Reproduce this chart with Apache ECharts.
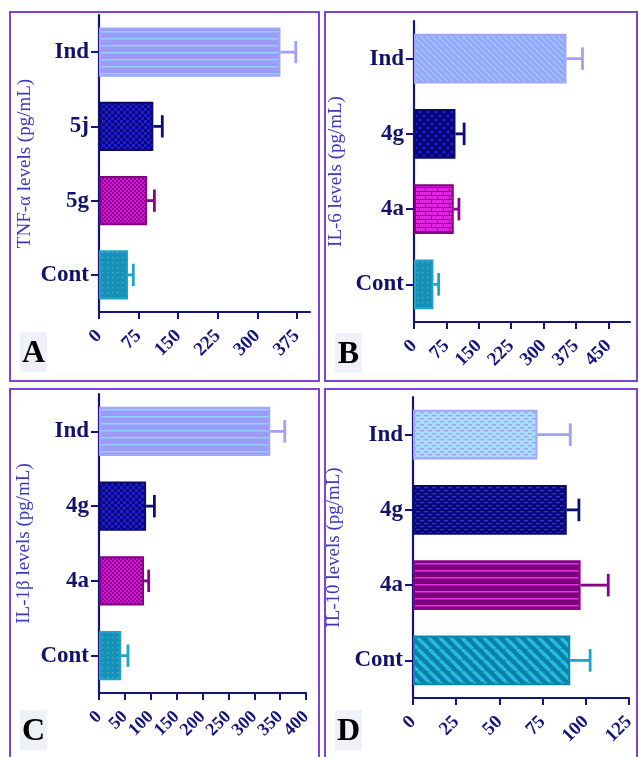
<!DOCTYPE html>
<html><head><meta charset="utf-8">
<script src="https://cdn.jsdelivr.net/npm/echarts@6/dist/echarts.min.js"></script>
<style>html,body{margin:0;padding:0;background:#fff}#c{width:639px;height:757px}</style>
</head><body><div id="c"></div>
<script>
// ---------- DATA ----------
const catsA = ['Cont', '5g', '5j', 'Ind'];
const meanA = [55, 91, 103, 344];
const sdA   = [10, 14, 17, 29];
const ticksA = [0, 75, 150, 225, 300, 375];

const catsB = ['Cont', '4a', '4g', 'Ind'];
const meanB = [45, 92, 96, 353];
const sdB   = [12, 12, 20, 37];
const ticksB = [0, 75, 150, 225, 300, 375, 450];

const catsC = ['Cont', '4a', '4g', 'Ind'];
const meanC = [43, 87, 91, 331];
const sdC   = [13, 9, 16, 28];
const ticksC = [0, 50, 100, 150, 200, 250, 300, 350, 400];

const catsD = ['Cont', '4a', '4g', 'Ind'];
const meanD = [91, 97, 89, 72];
const sdD   = [11.5, 16, 7, 19];
const ticksD = [0, 25, 50, 75, 100, 125];

const namesY = ['TNF-\u03b1 levels (pg/mL)', 'IL-6 levels (pg/mL)', 'IL-1\u03b2 levels (pg/mL)', 'IL-10 levels (pg/mL)'];
const panelLetters = ['A', 'B', 'C', 'D'];

// ---------- PATTERNS / STYLES ----------
function pat(w, h, draw) {
  const c = document.createElement('canvas'); c.width = w; c.height = h;
  const g = c.getContext('2d'); draw(g, w, h);
  return { image: c, repeat: 'repeat' };
}
const hLines = (base, line, sp, lw) => pat(6, sp, (g, w, h) => { g.fillStyle = base; g.fillRect(0, 0, w, h); g.fillStyle = line; g.fillRect(0, Math.floor(h / 2), w, lw); });
const checker = (c1, c2, s) => pat(2 * s, 2 * s, g => { g.fillStyle = c1; g.fillRect(0, 0, 2 * s, 2 * s); g.fillStyle = c2; g.fillRect(0, 0, s, s); g.fillRect(s, s, s, s); });
const dots = (base, dot, sp) => pat(sp, sp, (g, w, h) => { g.fillStyle = base; g.fillRect(0, 0, w, h); g.fillStyle = dot; g.fillRect(2, 2, 1.3, 1.3); });
const diag = (base, stripe, sp, lw) => pat(sp, sp, (g, w, h) => {
  g.fillStyle = base; g.fillRect(0, 0, w, h); g.strokeStyle = stripe; g.lineWidth = lw;
  for (const o of [-w, 0, w]) { g.beginPath(); g.moveTo(o, 0); g.lineTo(o + w, h); g.stroke(); }
});
const cross = (base, line, sp, lw) => pat(sp, sp, (g, w, h) => {
  g.fillStyle = base; g.fillRect(0, 0, w, h); g.strokeStyle = line; g.lineWidth = lw;
  for (const o of [-w, 0, w]) {
    g.beginPath(); g.moveTo(o, 0); g.lineTo(o + w, h); g.stroke();
    g.beginPath(); g.moveTo(o + w, 0); g.lineTo(o, h); g.stroke();
  }
});
const brick = (mortar, br) => pat(12, 8, g => {
  g.fillStyle = mortar; g.fillRect(0, 0, 12, 8); g.fillStyle = br;
  g.fillRect(0, 0, 11, 3); g.fillRect(-6, 4, 11, 3); g.fillRect(6, 4, 11, 3);
});
const dashes = (base, d, lw) => pat(8, 6, g => {
  g.fillStyle = base; g.fillRect(0, 0, 8, 6); g.fillStyle = d;
  g.fillRect(0, 1, 4, lw); g.fillRect(4, 4, 4, lw);
});

const NAVY = '#14147e';
const styleCont = { fill: dots('#1590b6', '#4eb2d2', 5), border: '#22a2c6', err: '#1ea4cc' };
const styleIndH = { fill: hLines('#9c9cf8', '#92d2ff', 7, 1.5), border: '#a4a4fa', err: '#a0a0f6' };
const styleNavyChk = { fill: checker('#06067a', '#1e1ed0', 3), border: '#0a0a68', err: '#0c0c78' };
const styleMagChk = { fill: checker('#d414d4', '#900090', 2), border: '#820082', err: '#8a008a' };

const stylesA = [styleCont, styleMagChk, styleNavyChk, styleIndH];
const stylesB = [
  styleCont,
  { fill: brick('#8e008e', '#e024e0'), border: '#820082', err: '#8a008a' },
  { fill: cross('#1818d0', '#08086c', 8, 2.4), border: '#0a0a68', err: '#0c0c78' },
  { fill: diag('#a0a0f8', '#88ccff', 6, 1.6), border: '#a4a4fa', err: '#a0a0f6' }
];
const stylesC = [styleCont, styleMagChk, styleNavyChk, styleIndH];
const stylesD = [
  { fill: diag('#0a80aa', '#26bcdc', 11, 3.5), border: '#0a86b0', err: '#1ea4cc' },
  { fill: hLines('#7c007c', '#e234e2', 7, 1.5), border: '#8a008a', err: '#8a008a' },
  { fill: dashes('#08087a', '#3434c8', 1.3), border: '#0a0a68', err: '#0c0c78' },
  { fill: dashes('#a8dcff', '#a0a0f0', 1.3), border: '#a4a4fa', err: '#a0a0f6' }
];

const panels = [
  { cats: catsA, mean: meanA, sd: sdA, ticks: ticksA, max: 400, styles: stylesA, grid: { left: 99, top: 15, width: 211, height: 297 }, gap: 64, fs: 19 },
  { cats: catsB, mean: meanB, sd: sdB, ticks: ticksB, max: 500, styles: stylesB, grid: { left: 414, top: 21, width: 216, height: 301 }, gap: 68, fs: 19 },
  { cats: catsC, mean: meanC, sd: sdC, ticks: ticksC, max: 400, styles: stylesC, grid: { left: 99, top: 394, width: 207, height: 299 }, gap: 65, fs: 18 },
  { cats: catsD, mean: meanD, sd: sdD, ticks: ticksD, max: 125, styles: stylesD, grid: { left: 413, top: 397, width: 216, height: 301 }, gap: 69, fs: 19 }
];

const SERIF = "'Liberation Serif','Times New Roman',serif";

function errRender(params, api) {
  const y = api.value(0), m = api.value(1), e = api.value(2);
  const p0 = api.coord([m, y]), p1 = api.coord([e, y]);
  const h = api.size([0, 1])[1] * 0.3;
  const col = api.visual('color');
  return { type: 'group', children: [
    { type: 'line', shape: { x1: p0[0], y1: p0[1], x2: p1[0], y2: p1[1] }, style: { stroke: col, lineWidth: 2.8 } },
    { type: 'line', shape: { x1: p1[0], y1: p1[1] - h / 2, x2: p1[0], y2: p1[1] + h / 2 }, style: { stroke: col, lineWidth: 2.8 } }
  ] };
}

const grids = [], xAxes = [], yAxes = [], series = [];
panels.forEach((p, i) => {
  grids.push(Object.assign({ containLabel: false }, p.grid));
  xAxes.push({
    type: 'value', gridIndex: i, min: 0, max: p.max,
    axisLine: { show: true, lineStyle: { color: NAVY, width: 2.2 } },
    axisTick: { show: true, customValues: p.ticks, length: 7, lineStyle: { color: NAVY, width: 2 } },
    axisLabel: { customValues: p.ticks, rotate: 45, margin: 21, showMinLabel: true, showMaxLabel: true, hideOverlap: false,
      color: NAVY, fontSize: p.fs, lineHeight: 12, fontWeight: 'bold', fontFamily: SERIF },
    splitLine: { show: false }
  });
  yAxes.push({
    type: 'category', gridIndex: i, data: p.cats,
    name: namesY[i], nameLocation: 'middle', nameGap: p.gap,
    nameTextStyle: { color: '#3a3abf', fontSize: 19, fontFamily: SERIF },
    axisLine: { show: true, lineStyle: { color: NAVY, width: 2.2 } },
    axisTick: { show: true, alignWithLabel: true, length: 8, lineStyle: { color: NAVY, width: 2 } },
    axisLabel: { margin: 10, color: '#12126a', fontSize: 23, fontWeight: 'bold', fontFamily: SERIF },
    splitLine: { show: false }
  });
  series.push({
    type: 'bar', xAxisIndex: i, yAxisIndex: i, barWidth: '66%', z: 2,
    data: p.mean.map((v, k) => ({ value: v, itemStyle: { color: p.styles[k].fill, borderColor: p.styles[k].border, borderWidth: 2 } }))
  });
  series.push({
    type: 'custom', xAxisIndex: i, yAxisIndex: i, renderItem: errRender, z: 1,
    encode: { x: [1, 2], y: 0 },
    data: p.mean.map((v, k) => ({ value: [k, v, v + p.sd[k]], itemStyle: { color: p.styles[k].err } }))
  });
});

const boxes = [[10, 12, 309, 369], [325, 12, 312, 369], [10, 389, 309, 372], [325, 389, 312, 372]];
const letterPos = [[20, 332], [335, 333], [20, 710], [335, 710]];
const graphic = [];
boxes.forEach(b => graphic.push({ type: 'rect', shape: { x: b[0], y: b[1], width: b[2], height: b[3] }, style: { fill: 'none', stroke: '#7d44dc', lineWidth: 2 }, z: 0 }));
letterPos.forEach((lp, i) => {
  graphic.push({ type: 'rect', shape: { x: lp[0], y: lp[1], width: 27, height: 40 }, style: { fill: '#eef1f8' }, z: 0 });
  graphic.push({ type: 'text', x: lp[0] + 13.5, y: lp[1] + 22, style: { text: panelLetters[i], fill: '#000', font: "bold 32px " + SERIF, align: 'center', verticalAlign: 'middle' }, z: 5 });
});

const chart = echarts.init(document.getElementById('c'));
chart.setOption({ animation: false, grid: grids, xAxis: xAxes, yAxis: yAxes, series: series, graphic: graphic });
</script>
</body></html>
